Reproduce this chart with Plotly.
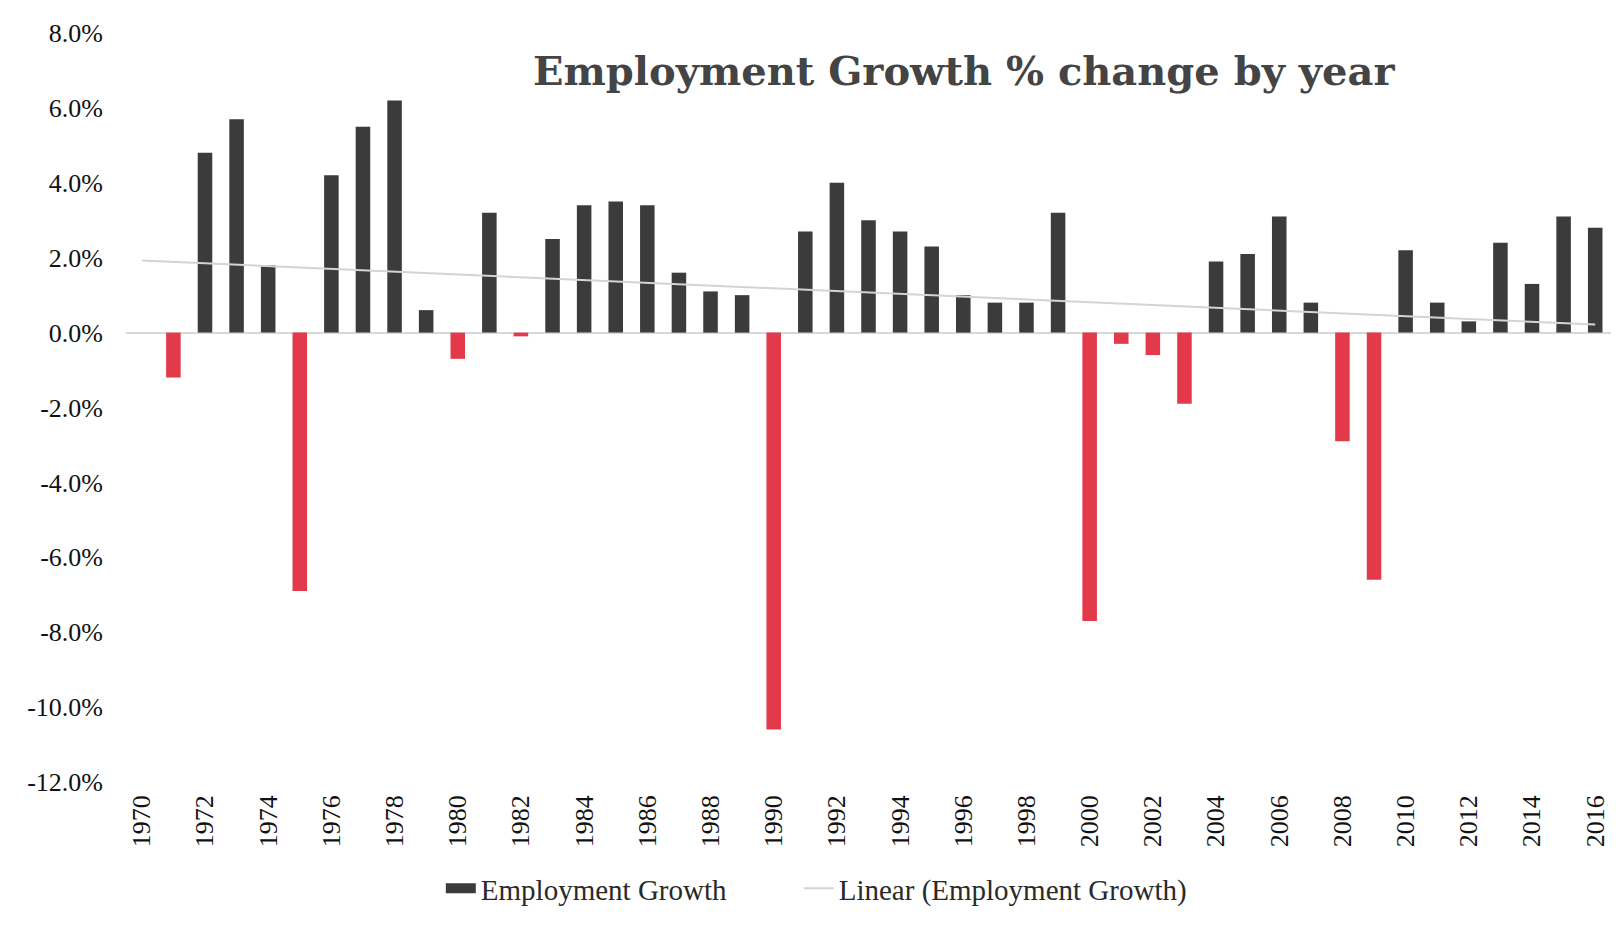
import numpy as np
import plotly.graph_objects as go

years = list(range(1970, 2017))
growth = [
    0.0, -1.2, 4.8, 5.7, 1.8, -6.9, 4.2, 5.5, 6.2, 0.6,
    -0.7, 3.2, -0.1, 2.5, 3.4, 3.5, 3.4, 1.6, 1.1, 1.0,
    -10.6, 2.7, 4.0, 3.0, 2.7, 2.3, 1.0, 0.8, 0.8, 3.2,
    -7.7, -0.3, -0.6, -1.9, 1.9, 2.1, 3.1, 0.8, -2.9, -6.6,
    2.2, 0.8, 0.3, 2.4, 1.3, 3.1, 2.8,
]
tick_years = list(range(1970, 2017, 2))
y_ticks = [8, 6, 4, 2, 0, -2, -4, -6, -8, -10, -12]

POS = "#3b3b3b"
NEG = "#e23a4b"
colors = [POS if v >= 0 else NEG for v in growth]

slope, intercept = np.polyfit(years, growth, 1)
trend = [slope * y + intercept for y in years]

serif = "Liberation Serif, Times New Roman, serif"
legend_font = dict(family=serif, size=29, color="#2a2a2a")

fig = go.Figure()
fig.add_trace(go.Bar(
    x=years, y=growth, name="Employment Growth", showlegend=False,
    marker=dict(color=colors, line=dict(width=0)),
))
# legend proxy for the bar series (wide dark swatch)
fig.add_trace(go.Scatter(
    x=[None], y=[None], mode="lines", name="Employment Growth",
    line=dict(color=POS, width=14), legend="legend",
))
fig.add_trace(go.Scatter(
    x=years, y=trend, mode="lines", name="Linear (Employment Growth)",
    line=dict(color="#d4d4d4", width=2), legend="legend2",
))

fig.update_layout(
    width=1613, height=923,
    paper_bgcolor="white", plot_bgcolor="white",
    margin=dict(l=118, r=10, t=25, b=149, autoexpand=False),
    bargap=0.54,
    font=dict(family=serif, color="#111111", size=26),
    showlegend=True,
    legend=dict(orientation="h", x=0.212, xanchor="left", y=-0.108, yanchor="top",
                font=legend_font),
    legend2=dict(orientation="h", x=0.453, xanchor="left", y=-0.108, yanchor="top",
                 font=legend_font),
    annotations=[dict(
        text="<b>Employment Growth % change by year</b>",
        x=0.564, y=1.0, xref="paper", yref="paper", xanchor="center", yanchor="top",
        yshift=-12, showarrow=False,
        font=dict(family="DejaVu Serif, serif", size=40, color="#444444"),
    )],
)
fig.update_xaxes(
    range=[1969.5, 2016.5], tickmode="array", tickvals=tick_years,
    ticktext=[str(y) for y in tick_years], tickangle=-90,
    showgrid=False, showline=False, zeroline=False, ticks="",
    ticklabelstandoff=7,
    tickfont=dict(family=serif, size=26, color="#111111"),
)
fig.update_yaxes(
    range=[-12, 8], tickmode="array", tickvals=y_ticks,
    ticktext=[f"{v:.1f}%" for v in y_ticks],
    showgrid=False, zeroline=True, zerolinecolor="#d8d8d8", zerolinewidth=1.5,
    showline=False, ticks="", ticklabelstandoff=22,
    tickfont=dict(family=serif, size=26, color="#111111"),
)

fig.write_html("out.html")
